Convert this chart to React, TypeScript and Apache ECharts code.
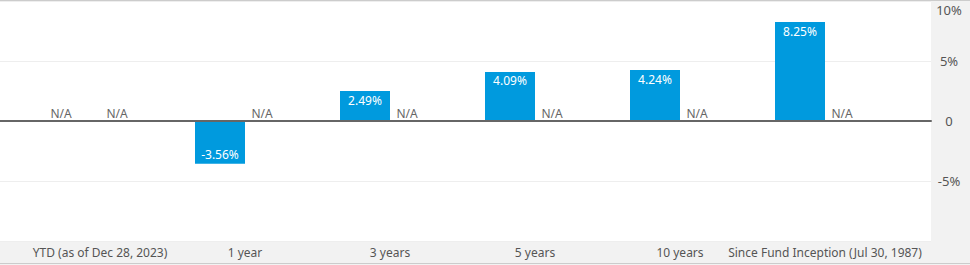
import React, { useEffect, useRef } from "react";
import * as echarts from "echarts";

const categories = [
  "YTD (as of Dec 28, 2023)",
  "1 year",
  "3 years",
  "5 years",
  "10 years",
  "Since Fund Inception (Jul 30, 1987)",
];
const fundReturns: (number | null)[] = [null, -3.56, 2.49, 4.09, 4.24, 8.25];
const benchmarkReturns: (number | null)[] = [null, null, null, null, null, null];
const yMin = -10;
const yMax = 10;
const yInterval = 5;

const FONT = "'Noto Sans', 'Open Sans', sans-serif";
const BLUE = "#009ADE";

function buildSeriesData(values: (number | null)[], naOffset: number[]) {
  return values.map((v) => {
    if (v === null) {
      return {
        value: 0,
        label: {
          show: true,
          formatter: "N/A",
          position: "top",
          distance: 2,
          offset: naOffset,
          color: "#666",
          fontSize: 12,
          fontFamily: FONT,
        },
      };
    }
    return {
      value: v,
      label: {
        show: true,
        formatter: (p: any) => `${Number(p.value).toFixed(2)}%`,
        position: v >= 0 ? "insideTop" : "insideBottom",
        distance: 3,
        color: "#fff",
        fontSize: 12,
        fontFamily: FONT,
      },
    };
  });
}

export default function App() {
  const ref = useRef<HTMLDivElement>(null);
  useEffect(() => {
    document.body.style.margin = "0";
    if (!ref.current) return;
    const chart = echarts.init(ref.current, undefined, { renderer: "svg" });
    chart.setOption({
      animation: false,
      backgroundColor: "#f2f2f2",
      textStyle: { fontFamily: FONT },
      grid: [
        { left: 0, top: 1, width: 931, height: 240, show: true, backgroundColor: "#fff", borderWidth: 0 },
        { left: 27.5, top: 1, width: 870, height: 240 },
      ],
      xAxis: [
        {
          gridIndex: 0,
          type: "category",
          data: [""],
          axisLine: { onZero: true, lineStyle: { color: "#666", width: 2 } },
          axisTick: { show: false },
          axisLabel: { show: false },
          z: 5,
        },
        {
          gridIndex: 1,
          type: "category",
          data: categories,
          axisLine: { show: false },
          axisTick: { show: false },
          axisLabel: { color: "#555", fontSize: 12, margin: 5, interval: 0, fontFamily: FONT },
        },
      ],
      yAxis: [
        {
          gridIndex: 0,
          type: "value",
          position: "right",
          min: yMin,
          max: yMax,
          interval: yInterval,
          splitLine: { lineStyle: { color: "#eeeeee", width: 1 } },
          axisLine: { show: false },
          axisTick: { show: false },
          axisLabel: {
            align: "center",
            margin: 18,
            color: "#555",
            fontSize: 13,
            fontFamily: FONT,
            formatter: (v: number) => {
              if (v === yMin) return "";
              if (v === yMax) return `{t|${v}%}`;
              return v === 0 ? "0" : `${v}%`;
            },
            rich: {
              t: { padding: [18, 0, 0, 0], color: "#555", fontSize: 13, fontFamily: FONT },
            },
          },
        },
        { gridIndex: 1, type: "value", min: yMin, max: yMax, interval: yInterval, show: false },
      ],
      series: [
        {
          type: "bar",
          name: "Fund",
          xAxisIndex: 1,
          yAxisIndex: 1,
          barWidth: 50,
          barGap: "0%",
          itemStyle: { color: BLUE },
          data: buildSeriesData(fundReturns, [-14, 0]),
        },
        {
          type: "bar",
          name: "Benchmark",
          xAxisIndex: 1,
          yAxisIndex: 1,
          barWidth: 50,
          barGap: "0%",
          itemStyle: { color: "#8c8c8c" },
          data: buildSeriesData(benchmarkReturns, [-8, 0]),
        },
      ],
      graphic: [
        { type: "line", shape: { x1: 0, y1: 0.5, x2: 970, y2: 0.5 }, style: { stroke: "#cccccc", lineWidth: 1 } },
        { type: "line", shape: { x1: 0, y1: 263.5, x2: 970, y2: 263.5 }, style: { stroke: "#cccccc", lineWidth: 1 } },
      ],
    });
    return () => chart.dispose();
  }, []);
  return <div ref={ref} style={{ width: 970, height: 265 }} />;
}
